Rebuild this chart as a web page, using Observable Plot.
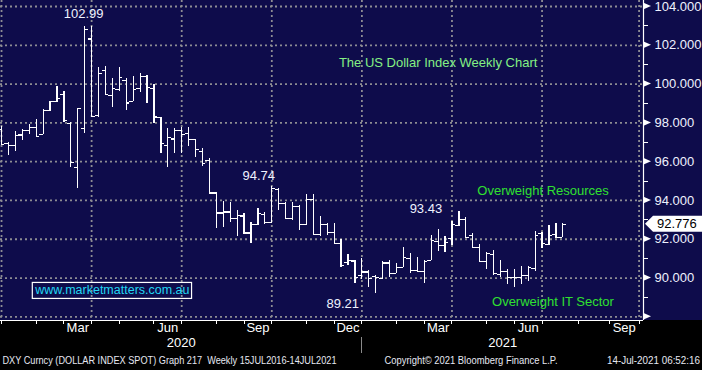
<!DOCTYPE html>
<html>
<head>
<meta charset="utf-8">
<script src="https://cdn.jsdelivr.net/npm/d3@7"></script>
<script src="https://cdn.jsdelivr.net/npm/@observablehq/plot@0.6"></script>
<style>
html, body { margin: 0; padding: 0; background: #000; }
#chart { width: 702px; height: 370px; overflow: hidden; }
svg { display: block; }
</style>
</head>
<body>
<div id="chart"></div>
<script>
// ---- data: weekly DXY OHLC bars (week ending Fridays) ----
const weekEnding = d3.utcFriday.range(new Date("2019-12-27T00:00:00Z"), new Date("2021-07-17T00:00:00Z"));
const open = [97.67,96.95,96.82,97.38,97.61,97.78,97.40,98.65,99.10,99.45,
  97.97,95.70,97.70,102.33,98.40,100.70,99.41,99.71,100.19,99.09,
  99.76,100.39,99.76,98.27,96.83,97.17,97.61,97.47,97.13,96.54,
  96.06,94.38,93.35,93.40,93.05,93.20,92.32,92.76,93.27,92.88,
  94.55,93.86,93.09,93.69,92.76,94.03,92.25,92.76,92.33,91.79,
  90.82,90.88,90.13,90.31,90.08,89.96,90.77,90.25,90.56,90.99,
  90.39,90.34,90.91,91.90,91.68,92.02,92.69,93.02,92.20,91.56,
  90.84,91.20,90.17,90.32,90.03,90.03,90.12,90.48,92.28,91.73,
  92.23,92.11];
const high = [97.81,97.01,97.56,97.66,97.90,98.18,98.67,99.12,99.88,99.62,
  98.00,98.76,102.99,102.97,100.87,100.90,100.27,100.87,100.27,100.39,
  100.53,100.44,99.98,98.30,97.70,97.70,97.78,97.78,97.15,96.66,
  96.15,94.40,93.95,93.91,93.48,93.31,92.88,93.60,93.40,94.74,
  94.60,93.90,93.91,93.72,94.31,94.31,93.18,92.80,92.80,91.97,
  91.22,90.91,90.99,90.39,90.13,90.85,90.91,90.77,91.56,91.25,
  91.08,90.91,92.20,92.49,92.14,92.92,93.43,93.11,92.28,91.72,
  91.34,91.42,90.91,90.44,90.44,90.61,90.60,92.40,92.33,92.70,
  92.81,92.80];
const low = [96.84,96.34,96.54,97.09,97.40,97.30,97.38,98.60,99.04,98.02,
  95.72,94.63,97.47,98.28,98.30,99.41,98.81,99.63,98.64,99.09,
  99.58,99.02,97.95,96.44,95.72,96.44,96.41,96.78,96.23,95.75,
  94.35,92.54,92.63,92.88,92.14,92.25,91.77,92.70,92.78,92.80,
  93.48,93.05,92.97,92.45,92.70,92.20,92.14,92.20,91.76,90.56,
  90.65,89.74,89.91,89.53,89.21,89.90,90.01,90.22,90.56,90.25,
  90.31,89.70,90.91,91.39,91.34,91.68,92.68,92.02,91.50,90.82,
  90.44,90.15,90.05,89.65,89.52,89.65,89.84,90.34,91.51,91.68,
  92.11,92.11];
const close = [96.89,96.82,97.33,97.61,97.78,97.31,98.65,99.10,99.24,98.12,
  95.94,98.73,102.80,98.33,100.53,99.45,99.76,100.32,99.02,99.71,
  100.39,99.81,98.30,96.92,97.26,97.61,97.40,97.13,96.61,95.89,
  94.38,93.35,93.40,93.05,93.23,92.32,92.76,93.31,92.88,94.60,
  93.86,93.09,93.69,92.76,94.03,92.25,92.76,92.33,91.79,90.65,
  90.91,90.01,90.31,89.96,90.01,90.77,90.25,90.56,91.04,90.39,
  90.34,90.87,91.94,91.68,91.85,92.75,93.02,92.11,91.56,90.84,
  91.25,90.22,90.32,90.03,90.03,90.12,90.55,92.20,91.80,92.20,
  92.11,92.776];
const lastValue = 92.776;

// tick labels / annotations
const yTickValues = [88, 90, 92, 94, 96, 98, 100, 102, 104];
const yLabelValues = [90, 92, 94, 96, 98, 100, 102, 104];
const yMinorValues = [89, 91, 93, 95, 97, 99, 101, 103];
const monthStarts = d3.utcMonth.range(new Date("2020-01-01T00:00:00Z"), new Date("2021-10-02T00:00:00Z"));
const labelledMonths = [2, 5, 8, 11];
const yearNames = ["2020", "2021"];
const extremeLabels = ["102.99", "94.74", "93.43", "89.21"];
const extremeWeek = [12, 39, 66, 54];
const extremeValue = [102.99, 94.74, 93.43, 89.21];
const titleText = "The US Dollar Index Weekly Chart";
const noteTop = "Overweight Resources";
const noteBottom = "Overweight IT Sector";
const siteText = "www.marketmatters.com.au";
const footLeft = "DXY Curncy (DOLLAR INDEX SPOT) Graph 217  Weekly 15JUL2016-14JUL2021";
const footMid = "Copyright\u00A9 2021 Bloomberg Finance L.P.";
const footRight = "14-Jul-2021 06:52:16";

// ---- derived tables ----
const bars = weekEnding.map((d, i) => ({date: d, open: open[i], high: high[i], low: low[i], close: close[i]}));
const lastWeek = weekEnding[weekEnding.length - 1];
const xDomain = [new Date("2019-12-25T23:00:00Z"), new Date("2021-10-05T11:00:00Z")];
const yDomain = [87.81, 104.31];
const halfWeek = 3.5 * 864e5;

const monthTicks = monthStarts.map(m => ({month: m, at: m > lastWeek ? m : d3.utcFriday.floor(new Date(+m - 1))}));
const quarterTicks = monthTicks.filter(t => t.month.getUTCMonth() % 3 === 0).map(t => t.at);
const monthLabels = [];
for (let i = 0; i < monthTicks.length - 1; i++) {
  const mo = monthTicks[i].month.getUTCMonth();
  if (labelledMonths.includes(mo)) {
    monthLabels.push({name: d3.utcFormat("%b")(monthTicks[i].month), at: new Date((+monthTicks[i].at + +monthTicks[i + 1].at) / 2)});
  }
}
const yearSplit = monthTicks.find(t => +t.month === Date.UTC(2021, 0, 1)).at;
const yearLabels = [
  {name: yearNames[0], at: new Date((+xDomain[0] + +yearSplit) / 2)},
  {name: yearNames[1], at: new Date((+yearSplit + +xDomain[1]) / 2)}
];
const extremes = extremeLabels.map((t, i) => ({label: t, date: weekEnding[extremeWeek[i]], value: extremeValue[i]}));

const FONT = "'Liberation Sans', Arial, sans-serif";
const GRID = "#8d8d93";
const LABEL = "#eef2ff";

const annot = (i, opts) => Plot.text([extremes[i]], {x: "date", y: "value", text: "label", fill: LABEL, fontSize: 13, ...opts});

const plot = Plot.plot({
  width: 702,
  height: 370,
  marginTop: 0,
  marginRight: 59,
  marginBottom: 50,
  marginLeft: 0,
  x: {type: "utc", domain: xDomain, axis: null},
  y: {domain: yDomain, axis: null},
  style: {background: "transparent", fontFamily: FONT, fontSize: "13px", color: "#fff", overflow: "visible"},
  marks: [
    Plot.ruleY(yTickValues, {stroke: GRID, strokeWidth: 1.8, strokeDasharray: "2,3"}),
    Plot.ruleX(quarterTicks, {stroke: GRID, strokeWidth: 1.8, strokeDasharray: "2,3"}),
    Plot.ruleX([xDomain[1]], {stroke: "#fff", strokeWidth: 1.2}),
    Plot.ruleY([yDomain[0]], {stroke: "#fff", strokeWidth: 1.2}),
    // OHLC bars
    Plot.ruleX(bars, {x: "date", y1: "low", y2: "high", stroke: "#fff", strokeWidth: 1.2, shapeRendering: "crispEdges"}),
    Plot.ruleY(bars, {y: "open", x1: d => new Date(+d.date - halfWeek), x2: "date", stroke: "#fff", strokeWidth: 1.2, shapeRendering: "crispEdges"}),
    Plot.ruleY(bars, {y: "close", x1: "date", x2: d => new Date(+d.date + halfWeek), stroke: "#fff", strokeWidth: 1.2, shapeRendering: "crispEdges"}),
    // right axis labels
    Plot.text(yLabelValues, {y: d => d, text: d => d.toFixed(3), frameAnchor: "right", textAnchor: "start", dx: 11, fill: LABEL, fontSize: 13}),
    // bottom axis labels
    Plot.text(monthLabels, {x: "at", text: "name", frameAnchor: "bottom", dy: 11, fill: "#fff", fontSize: 13}),
    Plot.text(yearLabels, {x: "at", text: "name", frameAnchor: "bottom", dy: 26, fill: "#fff", fontSize: 13}),
    // extreme annotations
    annot(0, {dy: -12.5, dx: -1}),
    annot(1, {dy: -10.5, dx: -13}),
    annot(2, {dy: -3, dx: -33}),
    annot(3, {dy: 10.5, dx: -33}),
    // text notes
    Plot.text([titleText], {x: () => new Date("2021-03-12T00:00:00Z"), y: () => 101.11, text: d => d, fill: "#84f084", fontSize: 13}),
    Plot.text([noteTop], {x: () => new Date("2021-06-26T00:00:00Z"), y: () => 94.49, text: d => d, fill: "#30e030", fontSize: 13}),
    Plot.text([noteBottom], {x: () => new Date("2021-07-06T00:00:00Z"), y: () => 88.76, text: d => d, fill: "#30e030", fontSize: 13}),
    Plot.text([siteText], {x: () => new Date("2020-04-17T00:00:00Z"), y: () => 89.36, text: d => d, fill: "#22d6f2", fontSize: 12.5}),
    // footer
    Plot.text([footLeft], {frameAnchor: "bottom-left", dx: 2, dy: 43, textAnchor: "start", text: d => d, fill: "#e6e8f2", fontSize: 10}),
    Plot.text([footMid], {frameAnchor: "bottom-left", dx: 384, dy: 43, textAnchor: "start", text: d => d, fill: "#e6e8f2", fontSize: 10}),
    Plot.text([footRight], {frameAnchor: "bottom-right", dx: 56.5, dy: 43, textAnchor: "end", text: d => d, fill: "#e6e8f2", fontSize: 10})
  ]
});

plot.style.background = "linear-gradient(to bottom, #0e0c4b 0, #0e0c4b 320px, #000 320px, #000 100%)";
document.getElementById("chart").appendChild(plot);

// ---- Bloomberg-style decorations positioned by Plot's own scales ----
const X = plot.scale("x"), Y = plot.scale("y");
const svg = d3.select(plot);
const deco = svg.append("g");
const xr = X.apply(xDomain[1]);
const yb = Y.apply(yDomain[0]);

yTickValues.forEach(v => {
  const y = Y.apply(v);
  deco.append("path").attr("d", `M${xr},${y - 3.5}L${xr + 8},${y}L${xr},${y + 3.5}Z`).attr("fill", "#fff");
});
yMinorValues.forEach(v => {
  const y = Math.round(Y.apply(v)) + 0.5;
  deco.append("line").attr("x1", xr).attr("x2", xr + 5).attr("y1", y).attr("y2", y).attr("stroke", "#fff").attr("stroke-width", 1);
});
monthTicks.forEach(t => {
  const x = Math.round(X.apply(t.at)) + 0.5;
  if (x > xr) return;
  deco.append("line").attr("x1", x).attr("x2", x).attr("y1", yb).attr("y2", yb + 4).attr("stroke", "#fff").attr("stroke-width", 1);
});
{
  const x = Math.round(X.apply(yearSplit)) + 0.5;
  deco.append("line").attr("x1", x).attr("x2", x).attr("y1", yb + 17).attr("y2", yb + 33).attr("stroke", "#8a8a8a").attr("stroke-width", 1);
}
// current value tag
{
  const y = Y.apply(lastValue);
  deco.append("path")
    .attr("d", `M${xr + 2},${y}L${xr + 10},${y - 8}L702,${y - 8}L702,${y + 8}L${xr + 10},${y + 8}Z`)
    .attr("fill", "#fff");
  deco.append("text").attr("x", xr + 14).attr("y", y).attr("dy", "0.35em")
    .attr("text-anchor", "start")
    .attr("font-family", FONT).attr("font-size", 13).attr("fill", "#000")
    .text(lastValue.toFixed(3));
}
// box round the site address & condensed footer
plot.querySelectorAll("text").forEach(t => {
  const s = t.textContent;
  if (s === siteText) {
    const b = t.getBBox();
    const r = document.createElementNS("http://www.w3.org/2000/svg", "rect");
    r.setAttribute("x", b.x - 2);
    r.setAttribute("y", b.y - 1);
    r.setAttribute("width", b.width + 4);
    r.setAttribute("height", b.height + 2);
    r.setAttribute("fill", "none");
    r.setAttribute("stroke", "#fff");
    r.setAttribute("stroke-width", 1.2);
    if (t.getAttribute("transform")) r.setAttribute("transform", t.getAttribute("transform"));
    t.parentNode.insertBefore(r, t);
  }
  const widths = {[footLeft]: 334, [footMid]: 173, [footRight]: 93};
  if (widths[s]) {
    t.setAttribute("textLength", widths[s]);
    t.setAttribute("lengthAdjust", "spacingAndGlyphs");
  }
});
</script>
</body>
</html>
